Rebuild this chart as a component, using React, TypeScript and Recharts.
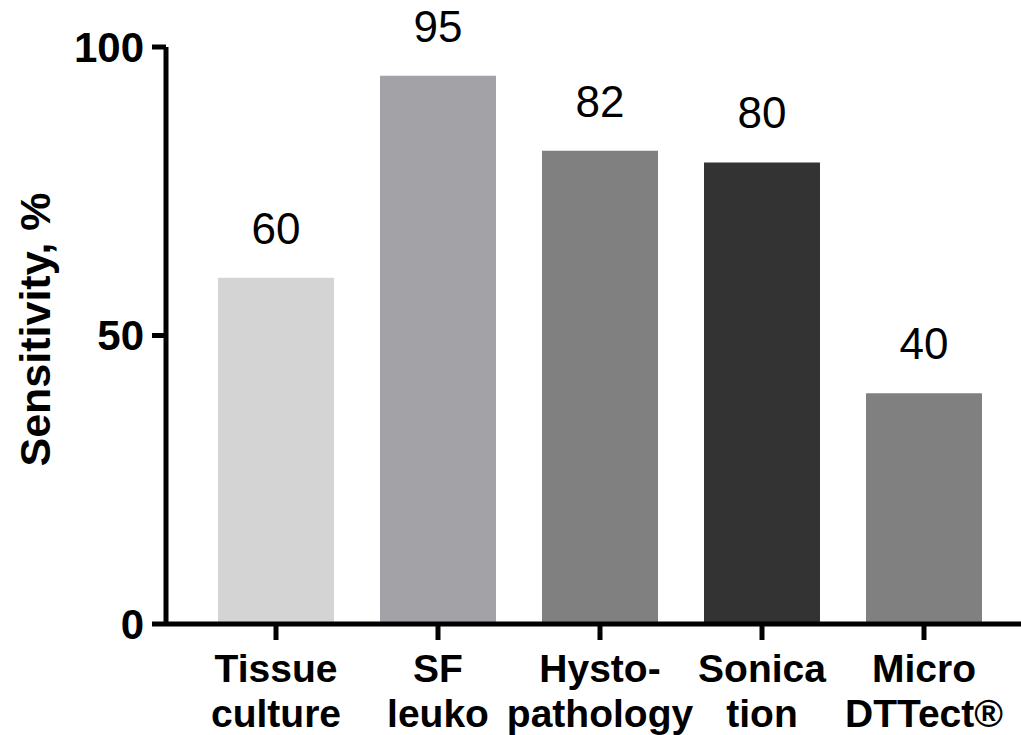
import { BarChart, Bar, XAxis, YAxis, Cell, LabelList } from "recharts";

// --- Data ---
const methods = ["Tissue\nculture", "SF\nleuko", "Hysto-\npathology", "Sonica\ntion", "Micro\nDTTect®"];
const sensitivity = [60, 95, 82, 80, 40];
const barColors = ["#d4d4d4", "#a3a2a7", "#808080", "#333333", "#808080"];
const yTicks = [0, 50, 100];

const FONT = '"Liberation Sans", Arial, Helvetica, sans-serif';

const data = methods.map((name, i) => ({ name, value: sensitivity[i] }));

// two-line category label under each bar
function MethodTick({ x, y, payload }: any) {
  const lines = String(payload.value).split("\n");
  return (
    <text
      x={x}
      y={y}
      textAnchor="middle"
      fontFamily={FONT}
      fontWeight="bold"
      fontSize={39}
      fill="#000"
    >
      {lines.map((l, i) => (
        <tspan key={i} x={x} dy={i === 0 ? 40 : 45}>
          {l}
        </tspan>
      ))}
    </text>
  );
}

function ValueLabel({ x, y, width, value }: any) {
  return (
    <text
      x={x + width / 2}
      y={y - 34}
      textAnchor="middle"
      fontFamily={FONT}
      fontSize={44}
      fill="#000"
    >
      {value}
    </text>
  );
}

function YTitle({ viewBox }: any) {
  const vb = viewBox || { x: 0, y: 47, width: 166, height: 577 };
  const cx = vb.x + 35;
  const cy = vb.y + vb.height / 2 - 6;
  return (
    <text
      x={cx}
      y={cy}
      transform={`rotate(-90, ${cx}, ${cy})`}
      textAnchor="middle"
      dominantBaseline="central"
      fontFamily={FONT}
      fontWeight="bold"
      fontSize={43}
      fill="#000"
    >
      Sensitivity, %
    </text>
  );
}

export default function App() {
  return (
    <div style={{ position: "absolute", left: 0, top: 0, background: "#fff" }}>
      <BarChart
        width={1021}
        height={735}
        data={data}
        margin={{ top: 47, right: 0, bottom: 0, left: 0 }}
      >
        <XAxis
          dataKey="name"
          height={111}
          interval={0}
          padding={{ left: 29, right: 16 }}
          tickSize={16}
          tickMargin={2}
          axisLine={{ stroke: "#000", strokeWidth: 5 }}
          tickLine={{ stroke: "#000", strokeWidth: 5 }}
          tick={<MethodTick />}
        />
        <YAxis
          width={166}
          domain={[0, 100]}
          ticks={yTicks}
          interval={0}
          tickSize={14}
          tickMargin={8}
          axisLine={{ stroke: "#000", strokeWidth: 5 }}
          tickLine={{ stroke: "#000", strokeWidth: 5 }}
          tick={{ fill: "#000", fontSize: 42, fontWeight: "bold", fontFamily: FONT }}
          label={<YTitle />}
        />
        <Bar dataKey="value" barSize={116} isAnimationActive={false}>
          {data.map((d, i) => (
            <Cell key={d.name} fill={barColors[i]} />
          ))}
          <LabelList dataKey="value" content={<ValueLabel />} />
        </Bar>
      </BarChart>
    </div>
  );
}
